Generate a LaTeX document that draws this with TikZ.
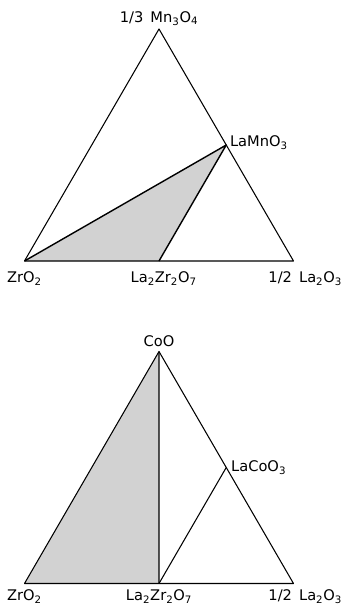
\documentclass[tikz,border=0pt]{standalone}
\usepackage{fontspec}
\setmainfont{DejaVu Sans}
\usetikzlibrary{calc}

\begin{document}
\begin{tikzpicture}[
  x=0.03cm, y=-0.03cm,
  side/.style={line width=0.9pt, line join=round},
  tie/.style={line width=1.2pt, line join=round},
  phase/.style={fill=gray!35},
  lbl/.style={font=\fontsize{12.5}{14}\selectfont, inner sep=1pt},
]
\useasboundingbox (0,0) rectangle (343,616);

% upper diagram: ZrO2 - Mn3O4 - La2O3
\coordinate (zrA) at (24.5,261);
\coordinate (mnA) at (159,29);
\coordinate (laA) at (293.5,261);
\coordinate (lzA) at ($(zrA)!0.5!(laA)$);
\coordinate (lmA) at ($(laA)!0.5!(mnA)$);

\fill[phase] (zrA) -- (lmA) -- (lzA) -- cycle;
\draw[side] (zrA) -- (laA) -- (mnA) -- cycle;
\draw[tie] (zrA) -- (lmA) -- (lzA);

\node[lbl, above=2pt] (mnlbl) at (mnA) {1/3\, Mn\textsubscript{3}O\textsubscript{4}};
\node[lbl, right=2pt, yshift=2pt] (lmlbl) at (lmA) {LaMnO\textsubscript{3}};
\node[lbl, below=8pt] (zrlblA) at (zrA) {ZrO\textsubscript{2}};
\node[lbl, below=8pt, xshift=4pt] (lzlblA) at (lzA) {La\textsubscript{2}Zr\textsubscript{2}O\textsubscript{7}};
\node[lbl, below=8pt, xshift=10pt] (lalblA) at (laA) {1/2\, La\textsubscript{2}O\textsubscript{3}};

% lower diagram: ZrO2 - CoO - La2O3
\coordinate (zrB) at (24.5,583.5);
\coordinate (coB) at (159,351.5);
\coordinate (laB) at (293.5,583.5);
\coordinate (lzB) at ($(zrB)!0.5!(laB)$);
\coordinate (lcB) at ($(laB)!0.5!(coB)$);

\fill[phase] (zrB) -- (coB) -- (lzB) -- cycle;
\draw[side] (zrB) -- (laB) -- (coB) -- cycle;
\draw[tie] (coB) -- (lzB);
\draw[side] (lzB) -- (lcB);

\node[lbl, above=3pt] (colbl) at (coB) {CoO};
\node[lbl, right=3pt] (lclbl) at (lcB) {LaCoO\textsubscript{3}};
\node[lbl, below=4pt] (zrlblB) at (zrB) {ZrO\textsubscript{2}};
\node[lbl, below=4pt] (lzlblB) at (lzB) {La\textsubscript{2}Zr\textsubscript{2}O\textsubscript{7}};
\node[lbl, below=4pt, xshift=10pt] (lalblB) at (laB) {1/2\, La\textsubscript{2}O\textsubscript{3}};
\end{tikzpicture}
\end{document}
